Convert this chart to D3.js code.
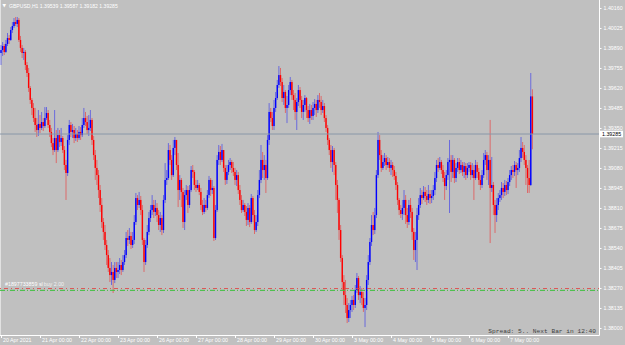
<!DOCTYPE html>
<html>
<head>
<meta charset="utf-8">
<script src="https://cdn.jsdelivr.net/npm/d3@7"></script>
<style>
  html, body { margin: 0; padding: 0; background: #c0c0c0; overflow: hidden; }
  svg { display: block; }
</style>
</head>
<body>
<svg width="625" height="345"></svg>
<script>
// GBPUSD H1, one row per trading day (24 bars), last day partial
const symbol = "GBPUSD,H1";
const firstOpen = 1.39832;
const closes = [
  1.39852,1.39879,1.39839,1.39893,1.39933,1.39920,1.39987,1.40014,1.40041,1.40028,1.40055,1.39920,1.39866,1.39832,1.39839,1.39751,1.39697,1.39596,1.39515,1.39461,1.39393,1.39346,1.39312,1.39353,
  1.39326,1.39366,1.39339,1.39393,1.39427,1.39346,1.39299,1.39224,1.39177,1.39258,1.39177,1.39278,1.39231,1.39258,1.39177,1.39076,1.39022,1.39245,1.39346,1.39299,1.39312,1.39258,1.39285,1.39258,
  1.39299,1.39278,1.39346,1.39393,1.39366,1.39312,1.39326,1.39380,1.39245,1.39143,1.39056,1.39008,1.38907,1.38806,1.38691,1.38624,1.38536,1.38468,1.38381,1.38333,1.38354,1.38300,1.38381,1.38354,
  1.38367,1.38401,1.38367,1.38421,1.38468,1.38583,1.38570,1.38597,1.38536,1.38570,1.38691,1.38853,1.38806,1.38840,1.38772,1.38570,1.38421,1.38536,1.38624,1.38718,1.38772,1.38806,1.38759,1.38786,
  1.38738,1.38671,1.38718,1.38637,1.38840,1.38975,1.38988,1.39177,1.39110,1.39008,1.39191,1.39245,1.39076,1.38907,1.38975,1.38894,1.38691,1.38873,1.38907,1.38806,1.38907,1.39042,1.39029,1.38941,
  1.38921,1.38941,1.38894,1.38806,1.38759,1.38806,1.38786,1.38873,1.38975,1.38907,1.38921,1.38583,1.38772,1.39110,1.39164,1.39110,1.39177,1.39056,1.38975,1.39029,1.39076,1.39096,1.39056,1.39029,
  1.38975,1.39008,1.38907,1.38840,1.38772,1.38806,1.38759,1.38705,1.38786,1.38691,1.38853,1.38738,1.38637,1.38691,1.38873,1.38975,1.39110,1.39042,1.39076,1.38988,1.39245,1.39434,1.39393,1.39339,
  1.39461,1.39528,1.39616,1.39683,1.39636,1.39528,1.39569,1.39461,1.39481,1.39582,1.39636,1.39548,1.39515,1.39434,1.39501,1.39582,1.39515,1.39434,1.39481,1.39528,1.39447,1.39393,1.39447,1.39407,
  1.39461,1.39488,1.39447,1.39515,1.39501,1.39447,1.39474,1.39393,1.39326,1.39245,1.39177,1.39096,1.39177,1.39076,1.38941,1.38840,1.38637,1.38448,1.38286,1.38198,1.38131,1.38043,1.38097,1.38131,
  1.38165,1.38131,1.38232,1.38313,1.38198,1.38219,1.38178,1.38111,1.38131,1.38300,1.38421,1.38556,1.38671,1.38637,1.38738,1.39008,1.39245,1.39143,1.39056,1.39096,1.39123,1.39076,1.39096,1.39056,
  1.39076,1.39042,1.39002,1.38941,1.38840,1.38772,1.38745,1.38786,1.38840,1.38738,1.38691,1.38806,1.38759,1.38624,1.38502,1.38570,1.38738,1.38806,1.38873,1.38853,1.38894,1.38867,1.38840,1.38880,
  1.38853,1.38867,1.38907,1.38988,1.39076,1.39056,1.39096,1.39042,1.38988,1.38934,1.39008,1.39096,1.39110,1.39029,1.39110,1.38988,1.39056,1.39096,1.39042,1.39076,1.39029,1.39069,1.39008,1.39056,
  1.39076,1.39008,1.39042,1.38988,1.39076,1.39029,1.38975,1.38941,1.39008,1.39110,1.39143,1.39042,1.39110,1.38921,1.38941,1.38806,1.38738,1.38806,1.38853,1.38873,1.38921,1.38894,1.38941,1.38907,
  1.38961,1.39008,1.39042,1.39029,1.39076,1.39042,1.39056,1.39123,1.39191,1.39164,1.39110,1.39056,1.38988,1.38941,1.39539,1.39285
];
const highs = [
  1.39886,1.39906,1.39893,1.39920,1.39967,1.39953,1.40007,1.40041,1.40068,1.40075,1.40075,1.40068,1.39947,1.39886,1.39866,1.39852,1.39771,1.39731,1.39609,1.39528,1.39494,1.39461,1.39393,1.39447,
  1.39413,1.39434,1.39393,1.39467,1.39467,1.39447,1.39380,1.39326,1.39258,1.39447,1.39312,1.39326,1.39312,1.39326,1.39272,1.39204,1.39110,1.39278,1.39380,1.39366,1.39353,1.39339,1.39326,1.39312,
  1.39339,1.39332,1.39393,1.39461,1.39434,1.39407,1.39413,1.39447,1.39393,1.39272,1.39177,1.39110,1.39042,1.38941,1.38853,1.38718,1.38671,1.38570,1.38502,1.38448,1.38421,1.38401,1.38421,1.38421,
  1.38421,1.38448,1.38435,1.38468,1.38502,1.38624,1.38637,1.38651,1.38624,1.38624,1.38738,1.38887,1.38873,1.38894,1.38867,1.38806,1.38583,1.38570,1.38671,1.38759,1.38806,1.38873,1.38840,1.38840,
  1.38819,1.38772,1.38759,1.38738,1.38873,1.39089,1.39042,1.39224,1.39211,1.39143,1.39245,1.39265,1.39245,1.39157,1.39008,1.38988,1.38921,1.38907,1.38941,1.38934,1.38941,1.39069,1.39076,1.39042,
  1.38975,1.38975,1.38954,1.38921,1.38840,1.38853,1.38840,1.38907,1.39002,1.38988,1.38975,1.38934,1.38806,1.39143,1.39211,1.39204,1.39218,1.39177,1.39076,1.39076,1.39110,1.39123,1.39110,1.39096,
  1.39056,1.39042,1.39029,1.38941,1.38873,1.38840,1.38819,1.38799,1.38819,1.38806,1.38880,1.38867,1.38772,1.38738,1.38907,1.39042,1.39211,1.39164,1.39143,1.39110,1.39278,1.39494,1.39461,1.39434,
  1.39515,1.39569,1.39650,1.39744,1.39731,1.39663,1.39616,1.39582,1.39542,1.39616,1.39670,1.39650,1.39582,1.39562,1.39528,1.39616,1.39602,1.39542,1.39515,1.39548,1.39535,1.39474,1.39488,1.39481,
  1.39501,1.39521,1.39515,1.39548,1.39562,1.39542,1.39515,1.39494,1.39413,1.39346,1.39258,1.39211,1.39204,1.39191,1.39096,1.38975,1.38853,1.38671,1.38468,1.38333,1.38300,1.38178,1.38144,1.38165,
  1.38192,1.38198,1.38266,1.38347,1.38327,1.38259,1.38246,1.38219,1.38178,1.38333,1.38468,1.38583,1.38738,1.38759,1.38786,1.39042,1.39299,1.39278,1.39177,1.39143,1.39157,1.39143,1.39130,1.39123,
  1.39110,1.39096,1.39069,1.39029,1.38961,1.38853,1.38806,1.38840,1.38907,1.38873,1.38786,1.38840,1.38853,1.38786,1.38651,1.38624,1.38786,1.38853,1.38921,1.38907,1.38934,1.38927,1.38907,1.38941,
  1.38907,1.38907,1.38941,1.39029,1.39110,1.39123,1.39130,1.39110,1.39076,1.39029,1.39042,1.39123,1.39245,1.39143,1.39143,1.39123,1.39089,1.39123,1.39123,1.39110,1.39096,1.39096,1.39089,1.39089,
  1.39096,1.39096,1.39089,1.39076,1.39110,1.39096,1.39056,1.39008,1.39042,1.39157,1.39177,1.39164,1.39143,1.39380,1.39130,1.38961,1.38840,1.38853,1.38887,1.38907,1.38961,1.38954,1.38975,1.38968,
  1.38988,1.39042,1.39069,1.39076,1.39103,1.39096,1.39089,1.39177,1.39265,1.39231,1.39211,1.39143,1.39076,1.39110,1.39697,1.39587
];
const lows = [
  1.39751,1.39812,1.39818,1.39832,1.39879,1.39893,1.39913,1.39967,1.40001,1.40014,1.40007,1.39906,1.39839,1.39798,1.39785,1.39717,1.39670,1.39569,1.39488,1.39413,1.39366,1.39299,1.39265,1.39272,
  1.39292,1.39312,1.39305,1.39326,1.39380,1.39326,1.39265,1.39197,1.39143,1.39164,1.39089,1.39164,1.39197,1.39204,1.39157,1.39042,1.38840,1.39002,1.39211,1.39265,1.39258,1.39224,1.39238,1.39231,
  1.39245,1.39245,1.39265,1.39326,1.39339,1.39285,1.39272,1.39305,1.39211,1.39110,1.38975,1.38941,1.38853,1.38759,1.38651,1.38570,1.38502,1.38401,1.38354,1.38286,1.38266,1.38212,1.38279,1.38313,
  1.38313,1.38340,1.38333,1.38354,1.38401,1.38448,1.38529,1.38543,1.38509,1.38516,1.38543,1.38671,1.38772,1.38786,1.38738,1.38536,1.38354,1.38401,1.38516,1.38603,1.38691,1.38738,1.38718,1.38732,
  1.38691,1.38637,1.38624,1.38603,1.38617,1.38819,1.38941,1.38975,1.39076,1.38975,1.38995,1.39143,1.39042,1.38792,1.38840,1.38792,1.38651,1.38637,1.38840,1.38752,1.38786,1.38894,1.38988,1.38907,
  1.38894,1.38907,1.38873,1.38772,1.38738,1.38745,1.38759,1.38772,1.38853,1.38867,1.38880,1.38563,1.38570,1.38759,1.39076,1.39076,1.39096,1.39029,1.38941,1.38948,1.39008,1.39042,1.39022,1.39002,
  1.38941,1.38934,1.38880,1.38806,1.38752,1.38759,1.38732,1.38664,1.38671,1.38657,1.38678,1.38691,1.38610,1.38624,1.38664,1.38853,1.38954,1.38988,1.38975,1.38887,1.38975,1.39211,1.39366,1.39312,
  1.39312,1.39434,1.39515,1.39596,1.39609,1.39501,1.39481,1.39427,1.39359,1.39461,1.39548,1.39515,1.39447,1.39380,1.39312,1.39474,1.39461,1.39393,1.39380,1.39434,1.39393,1.39366,1.39353,1.39380,
  1.39380,1.39413,1.39400,1.39427,1.39461,1.39413,1.39427,1.39366,1.39299,1.39211,1.39143,1.39056,1.39029,1.39008,1.38840,1.38752,1.38570,1.38421,1.38232,1.38131,1.38077,1.38009,1.38016,1.38043,
  1.38084,1.38097,1.38111,1.38212,1.38165,1.38144,1.38131,1.38084,1.37982,1.38097,1.38266,1.38401,1.38529,1.38603,1.38610,1.38718,1.38988,1.39110,1.39029,1.39042,1.39069,1.39042,1.39056,1.39029,
  1.39008,1.38995,1.38975,1.38907,1.38806,1.38738,1.38718,1.38705,1.38738,1.38678,1.38651,1.38671,1.38718,1.38570,1.38435,1.38421,1.38367,1.38705,1.38786,1.38813,1.38840,1.38826,1.38806,1.38819,
  1.38813,1.38819,1.38840,1.38873,1.38961,1.39029,1.39042,1.39015,1.38961,1.38840,1.38907,1.38975,1.38752,1.38961,1.38988,1.38954,1.38961,1.39029,1.39015,1.39022,1.39002,1.38988,1.38975,1.38988,
  1.39029,1.38975,1.38988,1.38840,1.38975,1.38988,1.38941,1.38907,1.38921,1.38988,1.39076,1.38975,1.38941,1.38549,1.38894,1.38738,1.38617,1.38691,1.38772,1.38826,1.38840,1.38853,1.38867,1.38873,
  1.38880,1.38934,1.38975,1.38988,1.39002,1.38921,1.39008,1.39029,1.39096,1.39123,1.39076,1.38941,1.38887,1.38887,1.38934,1.39182
];

// time axis: bar index of each day start and its label
const dayStarts = [0, 24, 48, 72, 96, 120, 144, 168, 192, 216, 240, 264, 288, 312];
const dayLabels = ["20 Apr 2021", "21 Apr 00:00", "22 Apr 00:00", "23 Apr 00:00", "26 Apr 00:00",
  "27 Apr 00:00", "28 Apr 00:00", "29 Apr 00:00", "30 Apr 00:00", "3 May 00:00", "4 May 00:00",
  "5 May 00:00", "6 May 00:00", "7 May 00:00"];
// price scale labels
const priceTicks = [1.40160, 1.40025, 1.39890, 1.39755, 1.39620, 1.39485, 1.39350, 1.39215,
  1.39080, 1.38945, 1.38810, 1.38675, 1.38540, 1.38405, 1.38270, 1.38135, 1.38000];
const bidPrice = 1.39285;
const slPrice = 1.38240;
const orderPrice = 1.38232;
const ticket = "#1897733859";
const statusText = "Spread: 5.. Next Bar in 12:40";

const svg = d3.select("svg");
const font = "'Liberation Sans', Arial, sans-serif";
const axisX = 599.5, axisY = 335.5;

// bars
const bars = closes.map((c, i) => ({
  i: i,
  o: i === 0 ? firstOpen : closes[i - 1],
  h: highs[i],
  l: lows[i],
  c: c
}));

const x = d3.scaleLinear().domain([0, closes.length - 1]).range([1, 532.4]);
const y = d3.scaleLinear().domain([1.38000, 1.40160]).range([324.4, 4.4]);

// frame
svg.append("line").attr("x1", 0.5).attr("x2", 0.5).attr("y1", 0).attr("y2", axisY)
  .attr("stroke", "#e2e2e2").attr("stroke-width", 1);

// candles
const g = svg.append("g");
const bull = "#0000ff", bear = "#ff0000";
g.selectAll(".wick").data(bars).enter().append("line")
  .attr("class", "wick")
  .attr("x1", d => x(d.i)).attr("x2", d => x(d.i))
  .attr("y1", d => y(Math.max(d.h, d.o, d.c)))
  .attr("y2", d => y(Math.min(d.l, d.o, d.c)))
  .attr("stroke", d => d.c >= d.o ? bull : bear)
  .attr("stroke-opacity", 0.45)
  .attr("stroke-width", 1);

g.selectAll(".body").data(bars).enter().append("rect")
  .attr("class", "body")
  .attr("x", d => x(d.i) - 0.7)
  .attr("width", 1.4)
  .attr("y", d => y(Math.max(d.o, d.c)))
  .attr("height", d => Math.max(0.8, Math.abs(y(d.o) - y(d.c))))
  .attr("fill", d => d.c >= d.o ? bull : bear);

// bid line
svg.append("line").attr("x1", 0).attr("x2", axisX).attr("y1", y(bidPrice)).attr("y2", y(bidPrice))
  .attr("stroke", "#8a97a8").attr("stroke-width", 1);

// order / stop loss lines
svg.append("line").attr("x1", 0).attr("x2", axisX).attr("y1", y(slPrice) - 0.3).attr("y2", y(slPrice) - 0.3)
  .attr("stroke", "#e04848").attr("stroke-width", 0.9).attr("stroke-dasharray", "1,3,4,3").attr("stroke-dashoffset", 0);
svg.append("line").attr("x1", 0).attr("x2", axisX).attr("y1", y(orderPrice) + 0.3).attr("y2", y(orderPrice) + 0.3)
  .attr("stroke", "#38c038").attr("stroke-width", 1).attr("stroke-dasharray", "5,2,1,2");
const tradeText = svg.append("text").attr("x", 5).attr("y", y(slPrice) - 2.5)
  .attr("fill", "#ffffff").style("font-family", font).style("font-size", "5.3px");
tradeText.append("tspan").text(ticket + " sl");
tradeText.append("tspan").attr("dx", 1).attr("fill", "#f0f0f0").text("buy 2.00");

// axis lines
svg.append("line").attr("x1", axisX).attr("x2", axisX).attr("y1", 0).attr("y2", axisY)
  .attr("stroke", "#ffffff");
svg.append("line").attr("x1", 0).attr("x2", axisX).attr("y1", axisY).attr("y2", axisY)
  .attr("stroke", "#ffffff");

// price axis
svg.append("g")
  .attr("transform", `translate(${axisX},3.6)`)
  .call(d3.axisRight(y).tickValues(priceTicks).tickSize(2).tickPadding(2).tickFormat(d3.format(".5f")))
  .call(a => a.select(".domain").remove())
  .call(a => a.selectAll("line").attr("stroke", "#ffffff"))
  .call(a => a.selectAll("text").attr("fill", "#ffffff").style("font-family", font).style("font-size", "5.3px"));

// bid label
const bidG = svg.append("g").attr("transform", `translate(${axisX + 0.5},${y(bidPrice)})`);
bidG.append("rect").attr("x", 0).attr("y", -3.3).attr("width", 23).attr("height", 6.6).attr("fill", "#ffffff");
bidG.append("text").attr("x", 2).attr("y", 2).attr("fill", "#000000")
  .style("font-family", font).style("font-size", "5.3px").text(d3.format(".5f")(bidPrice));

// time axis
svg.append("g")
  .attr("transform", `translate(0,${axisY})`)
  .call(d3.axisBottom(x).tickValues(dayStarts).tickSize(2.5).tickFormat((d, i) => dayLabels[i]))
  .call(a => a.select(".domain").remove())
  .call(a => a.selectAll("line").attr("stroke", "#ffffff"))
  .call(a => a.selectAll("text").attr("fill", "#ffffff").attr("text-anchor", "start")
    .attr("x", 1.5).attr("y", 6.6).attr("dy", null)
    .style("font-family", font).style("font-size", "5.3px"));

// title
const last = bars[bars.length - 1];
svg.append("text").attr("x", 2.5).attr("y", 7.3).attr("fill", "#ffffff")
  .style("font-family", "'DejaVu Sans', sans-serif").style("font-size", "4.5px").text("\u25BC");
svg.append("text").attr("x", 9).attr("y", 7.5).attr("fill", "#ffffff")
  .style("font-family", font).style("font-size", "5.1px")
  .text(symbol + "  " + [last.o, last.h, last.l, last.c].map(d3.format(".5f")).join(" "));

// status text
svg.append("text").attr("x", 596).attr("y", 333).attr("text-anchor", "end").attr("fill", "#404040")
  .style("font-family", "'Liberation Mono', 'DejaVu Sans Mono', monospace").style("font-size", "6.2px")
  .text(statusText);
</script>
</body>
</html>
